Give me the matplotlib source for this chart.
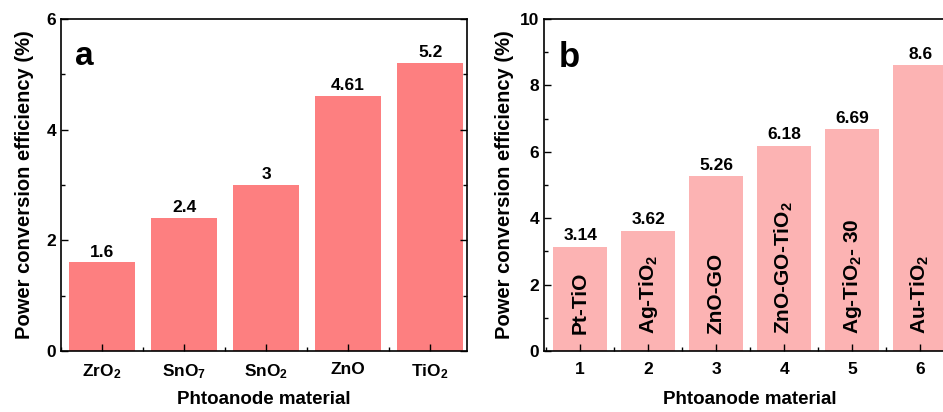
import matplotlib
matplotlib.use('Agg')
import matplotlib.pyplot as plt
from matplotlib.ticker import MultipleLocator, FixedLocator

plt.rcParams['font.family'] = ['Liberation Sans', 'DejaVu Sans']
plt.rcParams['font.weight'] = 'bold'
plt.rcParams['mathtext.fontset'] = 'custom'
plt.rcParams['mathtext.rm'] = 'Liberation Sans:bold'
plt.rcParams['mathtext.it'] = 'Liberation Sans:bold'
plt.rcParams['mathtext.bf'] = 'Liberation Sans:bold'
plt.rcParams['mathtext.default'] = 'bf'

# Panel a
mat_a = ['ZrO$_2$', 'SnO$_7$', 'SnO$_2$', 'ZnO', 'TiO$_2$']
val_a = [1.6, 2.4, 3.0, 4.61, 5.2]
lab_a = ['1.6', '2.4', '3', '4.61', '5.2']

# Panel b
idx_b = [1, 2, 3, 4, 5, 6]
mat_b = ['Pt-TiO', 'Ag-TiO$_2$', 'ZnO-GO', 'ZnO-GO-TiO$_2$', 'Ag-TiO$_2$- 30', 'Au-TiO$_2$']
val_b = [3.14, 3.62, 5.26, 6.18, 6.69, 8.6]
lab_b = ['3.14', '3.62', '5.26', '6.18', '6.69', '8.6']

COLOR_A = '#fd7f80'
COLOR_B = '#fcb3b3'

fig = plt.figure(figsize=(9.43, 4.12), dpi=100)
ax1 = fig.add_axes([0.0647, 0.148, 0.4306, 0.806])
ax2 = fig.add_axes([0.577, 0.148, 0.437, 0.806])


def style_axis(ax, n, ymax, major, minor):
    for sp in ax.spines.values():
        sp.set_linewidth(1.2)
    ax.set_ylim(0, ymax)
    ax.yaxis.set_major_locator(MultipleLocator(major))
    ax.yaxis.set_minor_locator(MultipleLocator(minor))
    ax.xaxis.set_major_locator(FixedLocator(range(1, n + 1)))
    ax.xaxis.set_minor_locator(FixedLocator([i + 0.5 for i in range(n)]))
    ax.tick_params(axis='both', which='both', direction='in', top=False, right=True,
                   labelsize=12.5, width=1.0)
    ax.tick_params(which='major', length=5)
    ax.tick_params(which='minor', length=3)
    ax.tick_params(axis='x', pad=8)
    ax.set_ylabel('Power conversion efficiency (%)', fontsize=14.5, fontweight='bold')


# panel a
x_a = list(range(1, len(val_a) + 1))
ax1.bar(x_a, val_a, width=0.8, color=COLOR_A)
for xi, v, t in zip(x_a, val_a, lab_a):
    ax1.text(xi, v + 0.05, t, ha='center', va='bottom', fontsize=12.5, fontweight='bold')
style_axis(ax1, len(val_a), 6, 2, 1)
ax1.set_xlim(0.5, 5.45)
ax1.set_xticklabels(mat_a)
ax1.set_xlabel('Phtoanode material', fontsize=13.5, fontweight='bold', labelpad=7)
ax1.yaxis.labelpad = 9
ax1.text(0.035, 0.935, 'a', transform=ax1.transAxes, fontsize=24, fontweight='bold',
         va='top', ha='left')

# panel b
ax2.bar(idx_b, val_b, width=0.8, color=COLOR_B)
for xi, v, t in zip(idx_b, val_b, lab_b):
    ax2.text(xi, v + 0.1, t, ha='center', va='bottom', fontsize=12.5, fontweight='bold')
for xi, m in zip(idx_b, mat_b):
    ax2.text(xi, 0.5, m, rotation=90, ha='center', va='bottom', fontsize=15,
             fontweight='bold')
style_axis(ax2, len(val_b), 10, 2, 1)
ax2.set_xlim(0.47, 6.53)
ax2.set_xticklabels([str(i) for i in idx_b])
ax2.set_xlabel('Phtoanode material', fontsize=13.5, fontweight='bold', labelpad=10)
ax2.yaxis.labelpad = 4
ax2.text(0.035, 0.935, 'b', transform=ax2.transAxes, fontsize=25, fontweight='bold',
         va='top', ha='left')

fig.savefig('out.png', dpi=100)
